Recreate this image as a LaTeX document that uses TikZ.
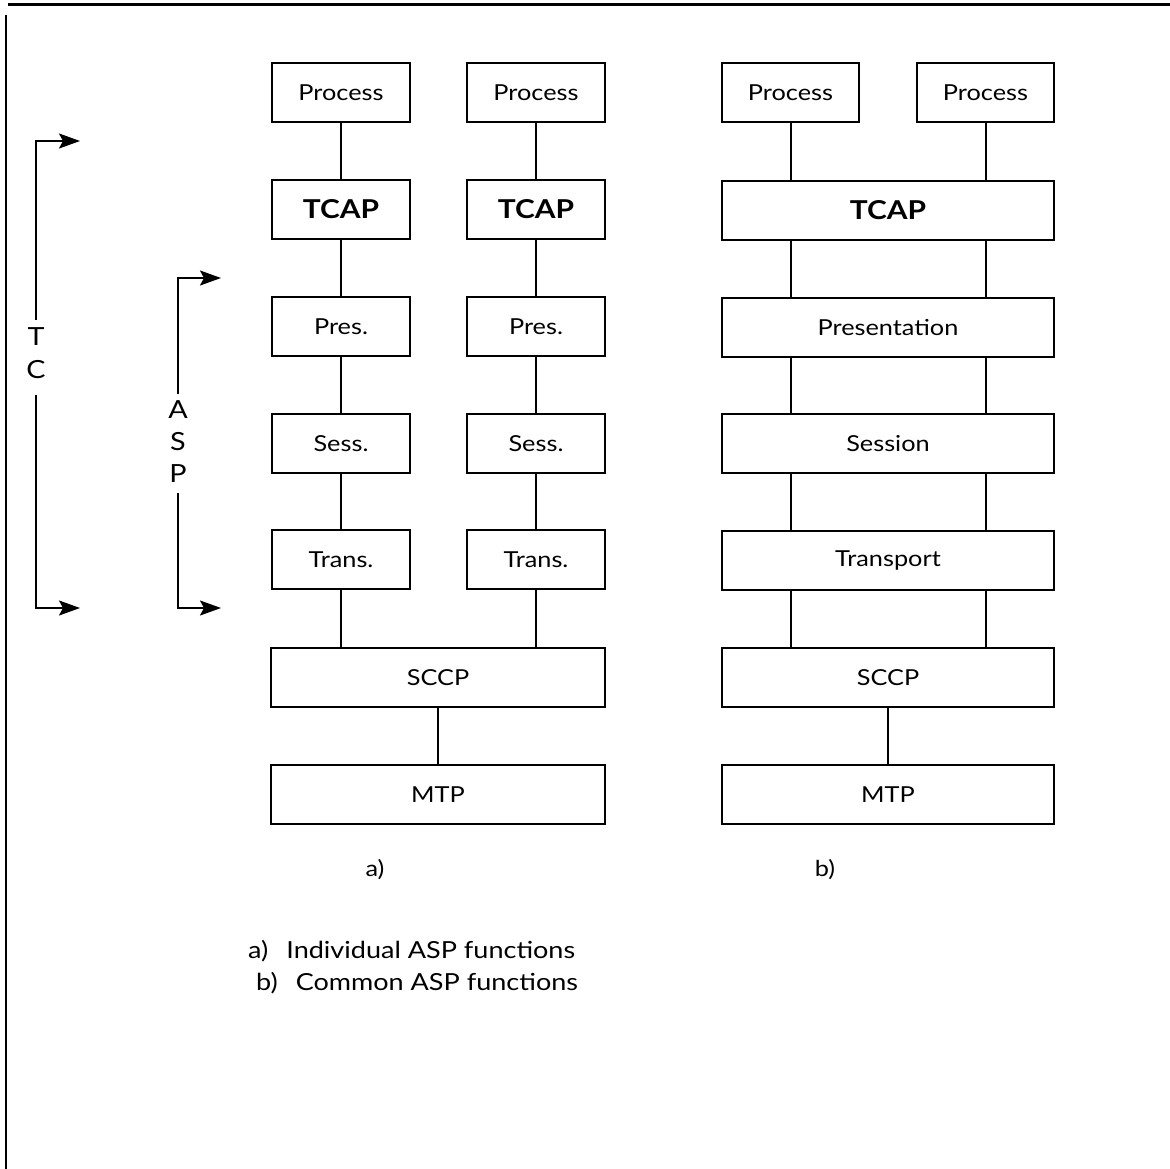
\documentclass[tikz,border=0pt]{standalone}
\usepackage{fontspec}
\setmainfont{Lato}[FakeStretch=1.15]
\usetikzlibrary{arrows.meta}
\tikzset{
  box/.style={draw, line width=2pt, minimum height=59pt, inner sep=0pt, font=\fontsize{22}{26}\selectfont},
  nbox/.style={box, minimum width=138pt},
  wbox/.style={box, minimum width=334pt},
  bbox/.style={box, minimum width=332pt},
  tcapf/.style={font=\fontsize{26}{30}\selectfont\bfseries},
  conn/.style={line width=2pt},
  arr/.style={line width=2pt, -{Stealth[length=21pt,width=15pt,inset=4pt]}},
  txt/.style={inner sep=0pt, font=\fontsize{22}{26}\selectfont},
  let/.style={inner sep=0pt, font=\fontsize{25}{30}\selectfont},
  leg/.style={inner sep=0pt, anchor=west, font=\fontsize{23.5}{28}\selectfont}
}
\begin{document}
\begin{tikzpicture}[x=1pt,y=-1pt]
\useasboundingbox (0,0) rectangle (1170,1169);
% frame
\draw[line width=3pt] (8,5) -- (1170,5);
\draw[line width=1.5pt] (6,15) -- (6,1169);
% column a
\node[nbox] (pa1) at (341,92.5) {Process};
\node[nbox] (pa2) at (536,92.5) {Process};
\node[nbox, tcapf] (ta1) at (341,209.5) {TCAP};
\node[nbox, tcapf] (ta2) at (536,209.5) {TCAP};
\node[nbox] (ra1) at (341,326.5) {Pres.};
\node[nbox] (ra2) at (536,326.5) {Pres.};
\node[nbox] (sa1) at (341,443.5) {Sess.};
\node[nbox] (sa2) at (536,443.5) {Sess.};
\node[nbox] (ua1) at (341,559.5) {Trans.};
\node[nbox] (ua2) at (536,559.5) {Trans.};
\node[wbox] (sca) at (438,677.5) {SCCP};
\node[wbox] (mta) at (438,794.5) {MTP};
\draw[conn] (pa1) -- (ta1); \draw[conn] (pa2) -- (ta2);
\draw[conn] (ta1) -- (ra1); \draw[conn] (ta2) -- (ra2);
\draw[conn] (ra1) -- (sa1); \draw[conn] (ra2) -- (sa2);
\draw[conn] (sa1) -- (ua1); \draw[conn] (sa2) -- (ua2);
\draw[conn] (ua1) -- (ua1 |- sca.north); \draw[conn] (ua2) -- (ua2 |- sca.north);
\draw[conn] (sca) -- (mta);
% column b
\node[box, minimum width=137pt] (pb1) at (790.5,92.5) {Process};
\node[box, minimum width=137pt] (pb2) at (985.5,92.5) {Process};
\node[bbox, tcapf] (tb) at (888,210.5) {TCAP};
\node[bbox] (rb) at (888,327.5) {Presentation};
\node[bbox] (sb) at (888,443.5) {Session};
\node[bbox] (ub) at (888,560.5) {Transport};
\node[bbox] (scb) at (888,677.5) {SCCP};
\node[bbox] (mtb) at (888,794.5) {MTP};
\draw[conn] (pb1) -- (pb1 |- tb.north); \draw[conn] (pb2) -- (pb2 |- tb.north);
\foreach \u/\l in {tb/rb, rb/sb, sb/ub, ub/scb}{
  \draw[conn] (\u.south -| pb1) -- (\l.north -| pb1);
  \draw[conn] (\u.south -| pb2) -- (\l.north -| pb2);
}
\draw[conn] (scb) -- (mtb);
% TC bracket
\node[let] (tcT) at (36,337) {T};
\node[let] (tcC) at (36,370) {C};
\coordinate (tcTop) at (36,141);
\coordinate (tcTopE) at (80,141);
\coordinate (tcBot) at (36,608);
\coordinate (tcBotE) at (80,608);
\draw[arr] (tcT.north) ++(0,-8) -- (tcTop) -- (tcTopE);
\draw[arr] (tcC.south) ++(0,16) -- (tcBot) -- (tcBotE);
% ASP bracket
\node[let] (aA) at (178,410) {A};
\node[let] (aS) at (178,442) {S};
\node[let] (aP) at (178,474) {P};
\coordinate (asTop) at (178,278);
\coordinate (asTopE) at (221,278);
\coordinate (asBot) at (178,608);
\coordinate (asBotE) at (221,608);
\draw[arr] (aA.north) ++(0,-7) -- (asTop) -- (asTopE);
\draw[arr] (aP.south) ++(0,10) -- (asBot) -- (asBotE);
% labels
\node[txt] (la) at (375,870) {a)};
\node[txt] (lb) at (825,870) {b)};
\node[leg] (lega) at (248,951) {a)\hspace{18pt}Individual ASP functions};
\node[leg] (legb) at (256,983) {b)\hspace{18pt}Common ASP functions};
\end{tikzpicture}
\end{document}
